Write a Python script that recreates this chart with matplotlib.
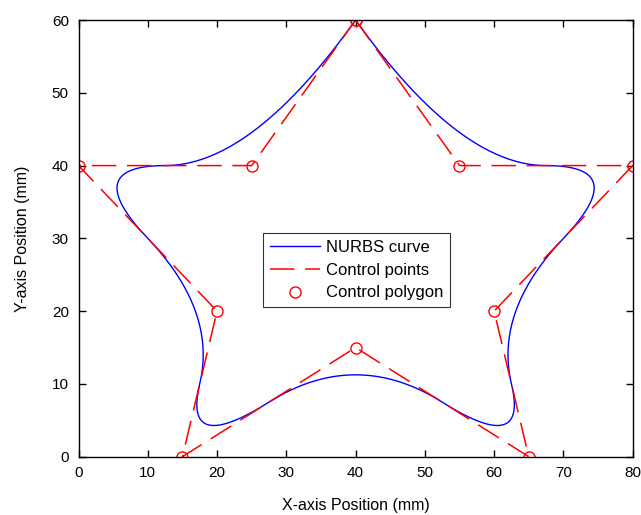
import numpy as np
import matplotlib
matplotlib.use("Agg")
import matplotlib.pyplot as plt

# Control points of the closed star (first == last)
ctrl_x = [40, 55, 80, 60, 65, 40, 15, 20, 0, 25, 40]
ctrl_y = [60, 40, 40, 20, 0, 15, 0, 20, 40, 40, 60]
weights = [1, 1, 1, 1, 1, 1, 1, 1, 1, 1, 1]
degree = 2
# clamped uniform knot vector
knots = [0, 0, 0, 1, 2, 3, 4, 5, 6, 7, 8, 9, 9, 9]

x_ticks = [0, 10, 20, 30, 40, 50, 60, 70, 80]
y_ticks = [0, 10, 20, 30, 40, 50, 60]


def nurbs_point(u, px, py, w, p, U):
    """de Boor evaluation of a rational B-spline at parameter u."""
    n = len(px) - 1
    k = p
    while k < n and u >= U[k + 1]:
        k += 1
    d = [np.array([px[j] * w[j], py[j] * w[j], w[j]], float)
         for j in range(k - p, k + 1)]
    for r in range(1, p + 1):
        for j in range(p, r - 1, -1):
            i = j + k - p
            den = U[i + p - r + 1] - U[i]
            a = 0.0 if den == 0 else (u - U[i]) / den
            d[j] = (1 - a) * d[j - 1] + a * d[j]
    return d[p][0] / d[p][2], d[p][1] / d[p][2]


us = np.linspace(knots[degree], knots[-degree - 1], 900)
curve = np.array([nurbs_point(u, ctrl_x, ctrl_y, weights, degree, knots) for u in us])

plt.rcParams["font.family"] = ["Liberation Sans", "DejaVu Sans"]

fig = plt.figure(figsize=(6.41, 5.15), dpi=100)
ax = fig.add_axes([0.1225, 0.1132, 0.8645, 0.8479])

ax.plot(curve[:, 0], curve[:, 1], color="#0000ff", lw=1.0, label="NURBS curve")
ax.plot(ctrl_x, ctrl_y, color="#ff0000", lw=1.1, ls=(0, (16, 7)), label="Control points")
ax.plot(ctrl_x, ctrl_y, ls="none", marker="o", ms=8, mfc="none", mec="#ff0000",
        mew=1.0, label="Control polygon")

ax.set_xlim(0, 80)
ax.set_ylim(0, 60)
ax.set_xticks(x_ticks)
ax.set_yticks(y_ticks)
ax.tick_params(direction="in", length=5, width=1, top=True, right=True,
               labelsize=11, pad=7)
for sp in ax.spines.values():
    sp.set_linewidth(1.0)
ax.set_xlabel("X-axis Position (mm)", fontsize=11.5, labelpad=13)
ax.set_ylabel("Y-axis Position (mm)", fontsize=11.5, labelpad=16)

leg = ax.legend(loc="upper left", bbox_to_anchor=(0.333, 0.512), frameon=True,
                fancybox=False, edgecolor="black", fontsize=12, handlelength=3.0,
                borderpad=0.4, labelspacing=0.47, handletextpad=0.36,
                borderaxespad=0)
leg.get_frame().set_linewidth(0.8)

fig.savefig("out.png", dpi=100, facecolor="white")
